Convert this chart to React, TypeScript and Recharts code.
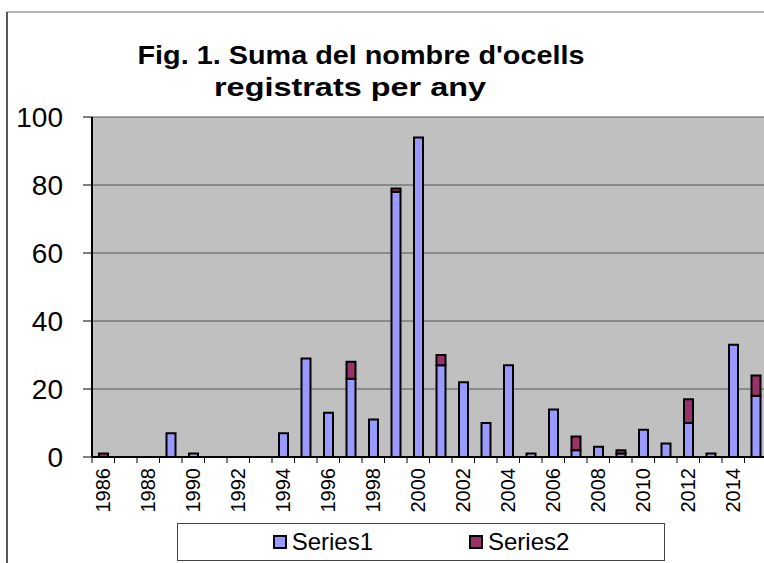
import React from "react";
import {
  Bar,
  BarChart,
  CartesianGrid,
  Legend,
  XAxis,
  YAxis,
} from "recharts";

const years = [
  "1986", "1987", "1988", "1989", "1990", "1991", "1992", "1993", "1994", "1995",
  "1996", "1997", "1998", "1999", "2000", "2001", "2002", "2003", "2004", "2005",
  "2006", "2007", "2008", "2009", "2010", "2011", "2012", "2013", "2014", "2015",
];
const series1 = [
  0, 0, 0, 7, 1, 0, 0, 0, 7, 29,
  13, 23, 11, 78, 94, 27, 22, 10, 27, 1,
  14, 2, 3, 1, 8, 4, 10, 1, 33, 18,
];
const series2 = [
  1, 0, 0, 0, 0, 0, 0, 0, 0, 0,
  0, 5, 0, 1, 0, 3, 0, 0, 0, 0,
  0, 4, 0, 1, 0, 0, 7, 0, 0, 6,
];
const yTicks = [0, 20, 40, 60, 80, 100];
const titleLines = ["Fig. 1. Suma del nombre d'ocells", "registrats per any"];

const data = years.map((year, i) => ({
  year,
  Series1: series1[i],
  Series2: series2[i],
}));

const FONT = "'Liberation Sans', Arial, sans-serif";
const CHART_W = 780;
const CHART_H = 563;
const PLOT_LEFT = 92;
const PLOT_RIGHT_MARGIN = 13;
const BAND = (CHART_W - PLOT_LEFT - PLOT_RIGHT_MARGIN) / years.length;

// title line placement (centre x, baseline y, stretched length)
const titlePos = [
  { x: 361, y: 64, len: 447 },
  { x: 350, y: 96, len: 272 },
];

const XTick = (props: any) => {
  const { x, y, payload, index } = props;
  const bx = x - BAND / 2;
  return (
    <g>
      <line x1={bx} y1={y - 11} x2={bx} y2={y - 5} stroke="#000" strokeWidth={1} />
      {index % 2 === 0 && (
        <text
          x={x}
          y={y}
          transform={`rotate(-90 ${x} ${y})`}
          textAnchor="end"
          dominantBaseline="central"
          fontSize={20}
          fontFamily={FONT}
          fill="#000"
        >
          {payload.value}
        </text>
      )}
    </g>
  );
};

const LegendBox = () => {
  const items = [
    { name: "Series1", color: "#9999FF" },
    { name: "Series2", color: "#993366" },
  ];
  return (
    <div
      style={{
        boxSizing: "border-box",
        width: 488,
        height: 38,
        border: "1px solid #444",
        background: "#fff",
        display: "flex",
        alignItems: "center",
        justifyContent: "center",
        gap: 96,
        fontFamily: FONT,
        fontSize: 24,
        color: "#000",
      }}
    >
      {items.map((it) => (
        <span key={it.name} style={{ display: "flex", alignItems: "center" }}>
          <span
            style={{
              boxSizing: "border-box",
              display: "inline-block",
              width: 14,
              height: 14,
              background: it.color,
              border: "2px solid #000",
              marginRight: 5,
            }}
          />
          {it.name}
        </span>
      ))}
    </div>
  );
};

export default function App() {
  return (
    <div
      style={{
        position: "absolute",
        left: 0,
        top: 0,
        width: 764,
        height: 563,
        overflow: "hidden",
        background: "#fff",
      }}
    >
      <BarChart
        width={CHART_W}
        height={CHART_H}
        data={data}
        margin={{ top: 117, right: PLOT_RIGHT_MARGIN, bottom: 2, left: 0 }}
      >
        <line x1={7} y1={12} x2={CHART_W} y2={12} stroke="#999" strokeWidth={1.5} />
        <line x1={7} y1={12} x2={7} y2={CHART_H} stroke="#222" strokeWidth={1.5} />
        {titleLines.map((t, i) => (
          <text
            key={t}
            x={titlePos[i].x}
            y={titlePos[i].y}
            textAnchor="middle"
            fontFamily={FONT}
            fontWeight="bold"
            fontSize={26}
            fill="#000"
            textLength={titlePos[i].len}
            lengthAdjust="spacingAndGlyphs"
          >
            {t}
          </text>
        ))}
        <CartesianGrid
          vertical={false}
          fill="#C0C0C0"
          fillOpacity={1}
          stroke="#555"
          strokeWidth={1}
        />
        <XAxis
          dataKey="year"
          interval={0}
          height={66}
          tickSize={5}
          tickMargin={6}
          tickLine={false}
          axisLine={{ stroke: "#000", strokeWidth: 2 }}
          tick={<XTick />}
        />
        <YAxis
          width={PLOT_LEFT}
          domain={[0, 100]}
          ticks={yTicks}
          interval={0}
          tickSize={9}
          tickMargin={20}
          tickLine={{ stroke: "#000" }}
          axisLine={{ stroke: "#000", strokeWidth: 2 }}
          tick={{ fontSize: 28, fontFamily: FONT, fill: "#000" }}
        />
        <Legend
          verticalAlign="bottom"
          content={<LegendBox />}
          wrapperStyle={{ left: 177, bottom: 2, width: 488 }}
        />
        <Bar
          dataKey="Series1"
          stackId="a"
          barSize={9}
          fill="#9999FF"
          stroke="#000"
          strokeWidth={2}
          isAnimationActive={false}
        />
        <Bar
          dataKey="Series2"
          stackId="a"
          barSize={9}
          fill="#993366"
          stroke="#000"
          strokeWidth={2}
          isAnimationActive={false}
        />
      </BarChart>
    </div>
  );
}
